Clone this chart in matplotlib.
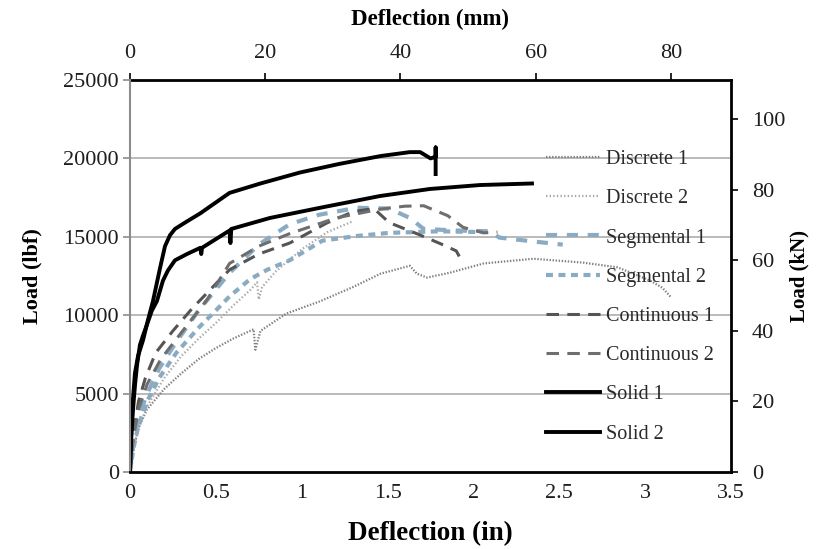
import matplotlib
matplotlib.use("Agg")
import matplotlib.pyplot as plt

plt.rcParams["font.family"] = ["Liberation Serif", "DejaVu Serif"]
plt.rcParams["lines.scale_dashes"] = False

# load-deflection curves, deflection in inches and load in lbf
disc1_x = [0, 0.02, 0.05, 0.1, 0.2, 0.3, 0.4, 0.5, 0.6, 0.7, 0.72, 0.73, 0.76, 0.91, 1.11,
           1.3, 1.46, 1.63, 1.67, 1.73, 1.86, 2.06, 2.35, 2.64, 2.84, 3.03, 3.1, 3.15]
disc1_y = [0, 1500, 2800, 4000, 5300, 6300, 7200, 7900, 8500, 9000, 9100, 7800, 9000, 10100, 10900,
           11800, 12650, 13150, 12650, 12400, 12700, 13300, 13600, 13350, 13050, 12200, 11750, 11150]

disc2_x = [0, 0.02, 0.05, 0.1, 0.2, 0.3, 0.4, 0.5, 0.6, 0.7, 0.74, 0.75, 0.77, 0.85, 1.0, 1.15, 1.3]
disc2_y = [0, 1400, 2800, 4200, 6000, 7400, 8500, 9500, 10600, 11600, 12100, 11000, 11800, 12800,
           14200, 15300, 16000]

seg1_x = [0, 0.02, 0.05, 0.1, 0.17, 0.27, 0.4, 0.58, 0.75, 0.93, 1.1, 1.32, 1.51, 1.63, 1.71,
          1.9, 2.1, 2.15, 2.35, 2.52]
seg1_y = [0, 1800, 3500, 5000, 6600, 8300, 10300, 12700, 14500, 15800, 16400, 16850, 16800, 16200,
          15500, 15400, 15350, 14950, 14700, 14500]

seg2_x = [0, 0.02, 0.05, 0.1, 0.17, 0.27, 0.4, 0.5, 0.58, 0.7, 0.8, 0.93, 1.12, 1.32, 1.51, 1.8, 2.05]
seg2_y = [0, 1500, 3000, 4500, 6000, 7600, 9200, 10300, 11200, 12300, 12900, 13500, 14750, 15050,
          15250, 15350, 15300]

cont1_x = [0, 0.02, 0.05, 0.09, 0.15, 0.25, 0.36, 0.5, 0.58, 0.75, 0.93, 1.15, 1.3, 1.42, 1.51,
           1.67, 1.81, 1.9, 1.92, 1.93]
cont1_y = [0, 2500, 4500, 6000, 7600, 9000, 10400, 12000, 12900, 13900, 14600, 15900, 16600, 16800,
           15900, 15200, 14550, 14100, 13700, 13250]

cont2_x = [0, 0.02, 0.05, 0.1, 0.18, 0.3, 0.45, 0.58, 0.75, 0.93, 1.2, 1.45, 1.6, 1.71, 1.85,
           1.94, 2.06, 2.14]
cont2_y = [0, 2200, 4000, 5600, 7200, 8900, 11000, 13300, 14400, 15200, 16200, 16750, 16950, 16980,
           16350, 15600, 15250, 15300]

solid1_x = [0, 0.006, 0.017, 0.029, 0.047, 0.076, 0.105, 0.134, 0.175, 0.204, 0.233, 0.262, 0.32,
            0.41, 0.58, 0.76, 0.99, 1.22, 1.46, 1.63, 1.69, 1.75, 1.78, 1.78, 1.78]
solid1_y = [0, 2000, 4600, 6300, 7400, 8400, 9700, 10900, 13000, 14400, 15100, 15500, 15900,
            16500, 17800, 18400, 19100, 19650, 20150, 20400, 20400, 20000, 20100, 20700, 19000]

solid2_x = [0, 0.006, 0.017, 0.029, 0.041, 0.058, 0.076, 0.099, 0.128, 0.157, 0.192, 0.221, 0.262,
            0.332, 0.41, 0.415, 0.42, 0.58, 0.585, 0.59, 0.815, 1.107, 1.456, 1.747, 2.038, 2.341]
solid2_y = [0, 2000, 3900, 5500, 6800, 8100, 8700, 9400, 10300, 10900, 12200, 12850, 13500,
            13900, 14300, 13900, 14300, 15400, 14600, 15500, 16200, 16850, 17600, 18050, 18300, 18400]

x_ticks = [0, 0.5, 1, 1.5, 2, 2.5, 3, 3.5]
y_ticks = [0, 5000, 10000, 15000, 20000, 25000]
mm_ticks = [0, 20, 40, 60, 80]
kn_ticks = [0, 20, 40, 60, 80, 100]

blue = "#8aabc2"
series = [
    ("Discrete 1", disc1_x, disc1_y, dict(color="#7f7f7f", lw=1.6, dashes=(1.0, 1.2))),
    ("Discrete 2", disc2_x, disc2_y, dict(color="#a8a8a8", lw=1.6, dashes=(1.0, 1.6))),
    ("Segmental 1", seg1_x, seg1_y, dict(color=blue, lw=3.0, dashes=(8, 7))),
    ("Segmental 2", seg2_x, seg2_y, dict(color=blue, lw=3.0, dashes=(5, 4))),
    ("Continuous 1", cont1_x, cont1_y, dict(color="#555555", lw=2.2, dashes=(9, 6))),
    ("Continuous 2", cont2_x, cont2_y, dict(color="#6e6e6e", lw=2.2, dashes=(9, 6))),
    ("Solid 1", solid1_x, solid1_y, dict(color="black", lw=2.8)),
    ("Solid 2", solid2_x, solid2_y, dict(color="black", lw=2.8)),
]

fig = plt.figure(figsize=(8.21, 5.49), dpi=100)
ax = fig.add_axes([0.1583, 0.1403, 0.7321, 0.714])

for name, xs, ys, style in series:
    ax.plot(xs, ys, label=name, **style)

ax.set_xlim(0, 3.5)
ax.set_ylim(0, 25000)
ax.set_xticks(x_ticks)
ax.set_xticklabels([f"{t:g}" for t in x_ticks])
ax.set_yticks(y_ticks)
for t in y_ticks[1:-1]:
    ax.axhline(t, color="#b4b4b4", lw=1.3, zorder=0)

txt = "#1e1e1e"
ax.tick_params(axis="x", length=0, pad=9, labelsize=16, labelcolor=txt)
ax.tick_params(axis="y", length=5, width=1.2, color="#8c8c8c", pad=3, labelsize=16, labelcolor=txt)
ax.spines["left"].set_color("#8c8c8c")
ax.spines["left"].set_linewidth(1.5)
ax.spines["bottom"].set_linewidth(2)
ax.spines["top"].set_visible(False)
ax.spines["right"].set_visible(False)

top = ax.secondary_xaxis("top", functions=(lambda v: v * 25.4, lambda v: v / 25.4))
top.set_xticks(mm_ticks)
top.tick_params(length=5, width=1.2, pad=7, labelsize=16, labelcolor=txt)
top.spines["top"].set_linewidth(2)
top.set_xlabel("Deflection (mm)", fontsize=16.5, fontweight="bold", labelpad=14)

right = ax.secondary_yaxis("right", functions=(lambda v: v * 0.0044482, lambda v: v / 0.0044482))
right.set_yticks(kn_ticks)
right.tick_params(length=5, width=1.2, pad=10, labelsize=16, labelcolor=txt)
right.spines["right"].set_linewidth(2)
right.set_ylabel("Load (kN)", fontsize=15, fontweight="bold", labelpad=3)

ax.set_xlabel("Deflection (in)", fontsize=19.5, fontweight="bold", labelpad=13)
ax.set_ylabel("Load (lbf)", fontsize=16, fontweight="bold", labelpad=15)

ax.legend(loc="upper left", bbox_to_anchor=(0.679, 0.842), frameon=False, fontsize=14.5,
          handlelength=2.65, handletextpad=0.3, labelspacing=1.0, borderaxespad=0,
          labelcolor="#2a2a2a")

fig.savefig("out.png", dpi=100)
